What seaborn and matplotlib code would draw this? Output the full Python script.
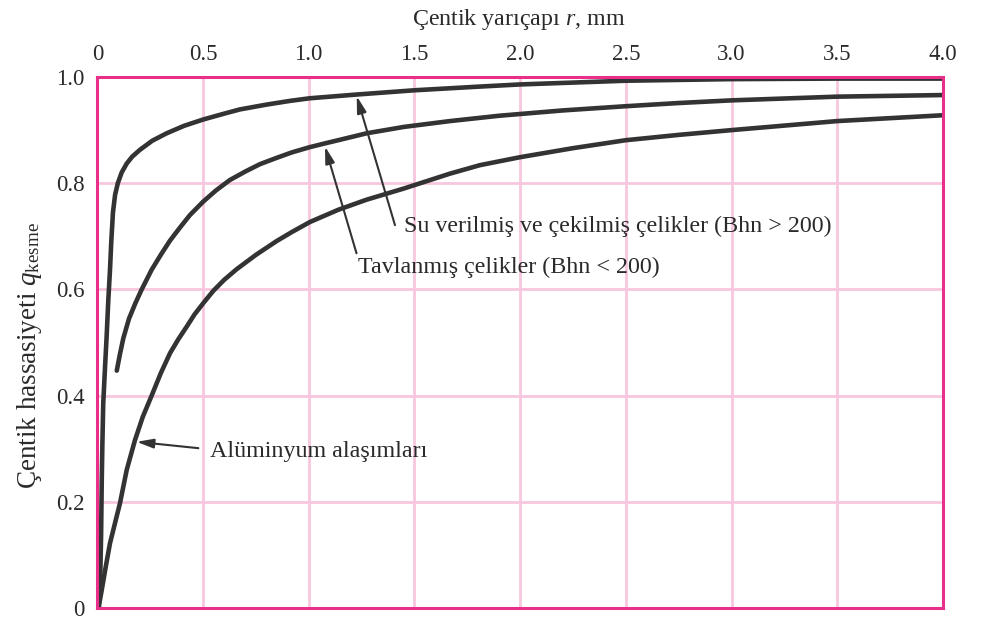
import numpy as np
import pandas as pd
import matplotlib
matplotlib.use("Agg")
import matplotlib.pyplot as plt
import seaborn as sns


sns.set_style("white")
plt.rcParams["font.family"] = ["Liberation Serif", "DejaVu Serif"]
plt.rcParams["mathtext.fontset"] = "custom"
plt.rcParams["mathtext.rm"] = "Liberation Serif"
plt.rcParams["mathtext.it"] = "Liberation Serif:italic"


#############################             Data          #############################
# Su verilmiş ve çekilmiş çelikler (Bhn > 200)
r_quenched = [0.008, 0.014, 0.018, 0.021, 0.024, 0.028, 0.036, 0.044, 0.052, 0.06, 0.066, 0.074,
              0.084, 0.097, 0.115, 0.139, 0.165, 0.202, 0.26, 0.328, 0.41, 0.501, 0.6, 0.675, 0.8,
              0.911, 1.006, 1.227, 1.5, 1.81, 2.0, 2.5, 3.0, 3.5, 4.0]
q_quenched = [0.0, 0.06, 0.14, 0.24, 0.31, 0.385, 0.45, 0.511, 0.58, 0.637, 0.69, 0.745,
              0.778, 0.8, 0.82, 0.837, 0.85, 0.863, 0.88, 0.894, 0.908, 0.92, 0.931, 0.939, 0.948,
              0.955, 0.96, 0.967, 0.975, 0.982, 0.986, 0.993, 0.996, 0.997, 0.997]

# Tavlanmış çelikler (Bhn < 200)
r_annealed = [0.092, 0.107, 0.123, 0.15, 0.18, 0.21, 0.257, 0.3, 0.344, 0.39, 0.438, 0.5, 0.56,
              0.627, 0.7, 0.77, 0.85, 0.92, 1.006, 1.077, 1.15, 1.274, 1.45, 1.668, 1.9, 2.2,
              2.5, 2.75, 3.0, 3.5, 4.0]
q_annealed = [0.447, 0.478, 0.508, 0.545, 0.574, 0.6, 0.637, 0.665, 0.692, 0.716, 0.74, 0.765, 0.786,
              0.806, 0.822, 0.836, 0.848, 0.858, 0.868, 0.875, 0.882, 0.894, 0.906, 0.917, 0.927, 0.937,
              0.945, 0.951, 0.956, 0.963, 0.966]

# Alüminyum alaşımları
r_alu = [0.01, 0.021, 0.04, 0.06, 0.085, 0.107, 0.139, 0.178, 0.215, 0.257, 0.3, 0.344, 0.383,
         0.423, 0.46, 0.501, 0.548, 0.6, 0.659, 0.75, 0.848, 0.92, 1.006, 1.14, 1.274, 1.45, 1.668,
         1.81, 2.0, 2.25, 2.5, 2.75, 3.0, 3.5, 4.0]
q_alu = [0.01, 0.034, 0.078, 0.122, 0.162, 0.197, 0.26, 0.316, 0.36, 0.4, 0.442, 0.48, 0.506,
         0.53, 0.553, 0.574, 0.597, 0.618, 0.638, 0.665, 0.691, 0.708, 0.727, 0.75, 0.769, 0.79, 0.818,
         0.834, 0.849, 0.866, 0.881, 0.891, 0.9, 0.917, 0.928]

x_ticks = [0, 0.5, 1.0, 1.5, 2.0, 2.5, 3.0, 3.5, 4.0]
x_tick_labels = ["0", "0.5", "1.0", "1.5", "2.0", "2.5", "3.0", "3.5", "4.0"]
y_ticks = [0, 0.2, 0.4, 0.6, 0.8, 1.0]
y_tick_labels = ["0", "0.2", "0.4", "0.6", "0.8", "1.0"]

# label text, arrow tip, arrow tail, text anchor
labels = [
    ("Su verilmiş ve çekilmiş çelikler (Bhn > 200)", (1.227, 0.964), (1.408, 0.721), (1.452, 0.719)),
    ("Tavlanmış çelikler (Bhn < 200)", (1.077, 0.869), (1.226, 0.668), (1.234, 0.642)),
    ("Alüminyum alaşımları", (0.186, 0.313), (0.478, 0.301), (0.533, 0.294)),
]

frame_col = "#E8308A"
grid_col = "#F8C6DE"
line_col = "#333333"
text_col = "#2a2a2a"

#############################             Plot          #############################
fig = plt.figure(figsize=(9.84, 6.22), dpi=100)
ax = fig.add_axes([0.0989, 0.0225, 0.8594, 0.8537])

for xs, ys in [(r_quenched, q_quenched), (r_annealed, q_annealed), (r_alu, q_alu)]:
    sns.lineplot(x=xs, y=ys, ax=ax, color=line_col, linewidth=3.3, sort=False, estimator=None)

ax.set_xlim(0, 4.0)
ax.set_ylim(0, 1.0)
ax.xaxis.tick_top()
ax.set_xticks(x_ticks)
ax.set_xticklabels(x_tick_labels)
ax.set_yticks(y_ticks)
ax.set_yticklabels(y_tick_labels)
ax.tick_params(length=0, pad=9, labelsize=16.5, colors=text_col)
ax.grid(True, color=grid_col, linewidth=2)
ax.set_axisbelow(True)
for sp in ax.spines.values():
    sp.set_color(frame_col)
    sp.set_linewidth(2.2)
    sp.set_zorder(5)

for txt, tip, tail, anchor in labels:
    ax.annotate("", xy=tip, xytext=tail,
                arrowprops=dict(arrowstyle="-|>,head_length=0.5,head_width=0.14", color=line_col,
                                lw=1.5, shrinkA=0, shrinkB=0, mutation_scale=20))
    ax.text(anchor[0], anchor[1], txt, ha="left", va="center", fontsize=17.3, color=text_col)

fig.text(519 / 984, 1 - 20 / 622, "Çentik yarıçapı $r$, mm", ha="center", va="center",
         fontsize=17.3, color=text_col)
fig.text(30 / 984, 1 - 356 / 622, "Çentik hassasiyeti $q_{\\mathrm{kesme}}$", ha="center",
         va="center", rotation=90, fontsize=19.5, color=text_col)

fig.savefig("out.png", dpi=100)
